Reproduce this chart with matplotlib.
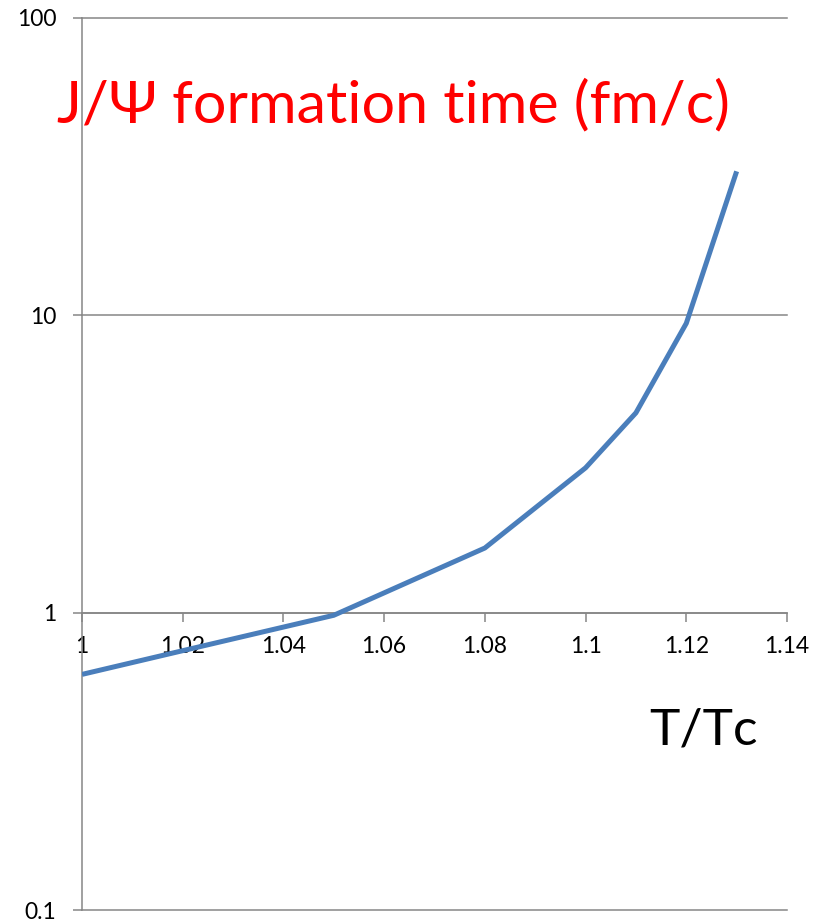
import matplotlib.pyplot as plt

plt.rcParams['font.family'] = ['Lato', 'DejaVu Sans']

t_tc = [1.0, 1.02, 1.05, 1.08, 1.10, 1.11, 1.12, 1.13]
form_time = [0.62, 0.745, 0.98, 1.65, 3.07, 4.7, 9.4, 30.5]

x_ticks = [1, 1.02, 1.04, 1.06, 1.08, 1.1, 1.12, 1.14]
x_labels = ['1', '1.02', '1.04', '1.06', '1.08', '1.1', '1.12', '1.14']
y_ticks = [0.1, 1, 10, 100]
y_labels = ['0.1', '1', '10', '100']

gray = '#868686'

fig = plt.figure(figsize=(8.26, 9.22), dpi=100)
ax = fig.add_axes([82 / 826, 1 - 910 / 922, (787 - 82) / 826, (910 - 18) / 922])

ax.plot(t_tc, form_time, color='#4a7ebb', lw=3.6, solid_capstyle='butt', zorder=3)

ax.set_yscale('log')
ax.set_xlim(1, 1.14)
ax.set_ylim(0.1, 100)
ax.set_xticks(x_ticks, x_labels)
ax.set_yticks(y_ticks, y_labels)
ax.minorticks_off()
ax.yaxis.grid(True, color=gray, lw=1.1)
for line in ax.get_ygridlines():
    line.set_clip_on(False)

for s in ['top', 'right']:
    ax.spines[s].set_visible(False)
ax.spines['bottom'].set_position(('data', 1))
ax.spines['left'].set_color(gray)
ax.spines['bottom'].set_color(gray)
ax.spines['left'].set_linewidth(1.1)
ax.spines['bottom'].set_linewidth(1.1)
ax.tick_params(axis='both', colors=gray, labelcolor='black', width=1.1,
               length=6.5, labelsize=16.5)
ax.tick_params(axis='y', pad=12)
ax.tick_params(axis='x', pad=10.5)

fig.text(57 / 826, 1 - 106 / 922, 'J/Ψ formation time (fm/c)', color='red',
         fontsize=42.7, ha='left', va='center')
fig.text(704 / 826, 1 - 730 / 922, 'T/Tc', color='black',
         fontsize=37, ha='center', va='center')

fig.savefig('out.png', dpi=100)
